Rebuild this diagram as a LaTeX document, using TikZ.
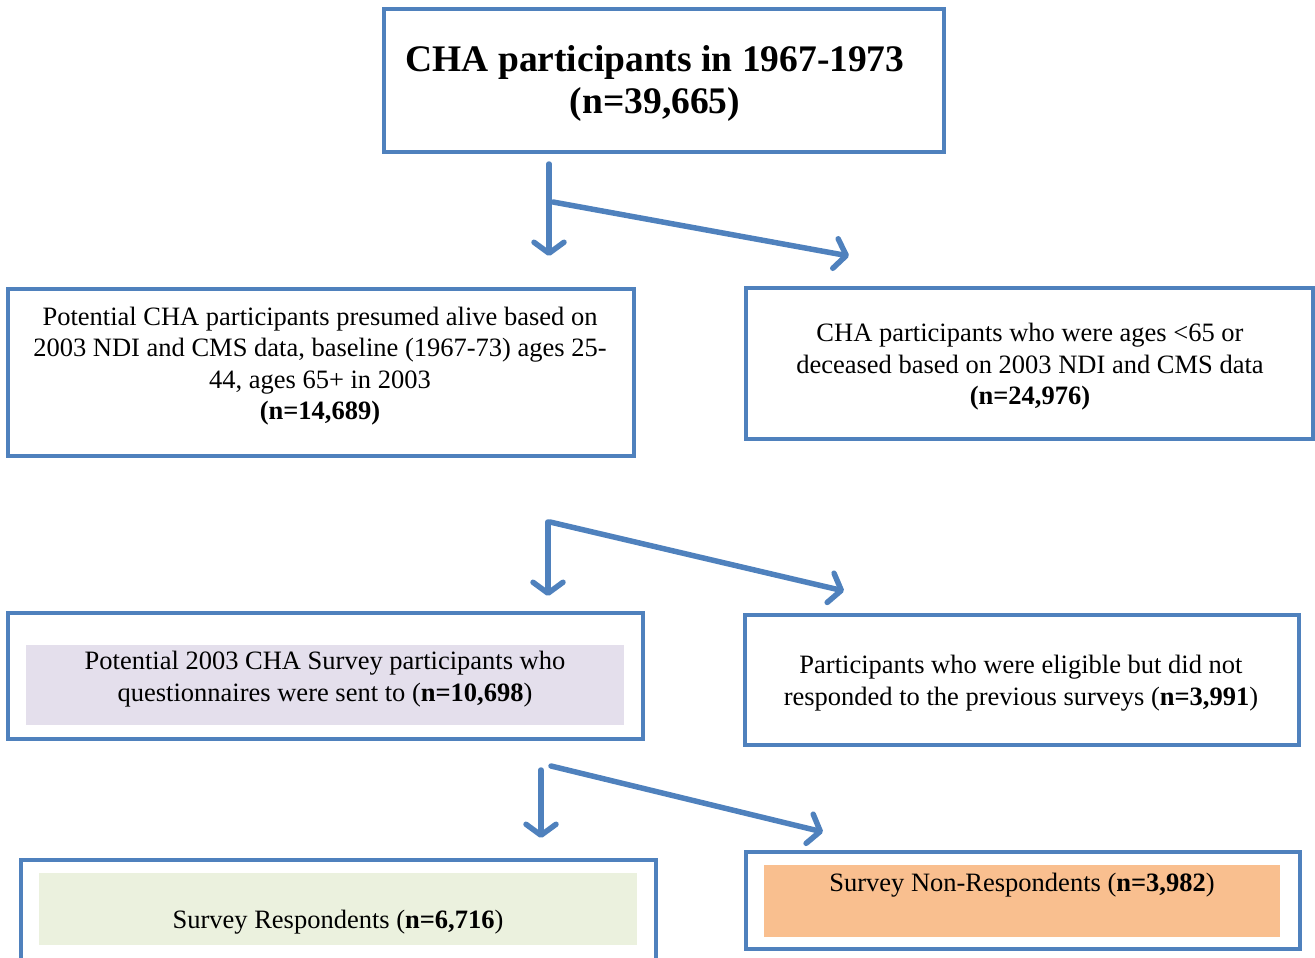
\documentclass[tikz,border=0pt]{standalone}
\usepackage{fontspec}
\setmainfont{Liberation Serif}
\usetikzlibrary{arrows.meta,calc}
\definecolor{boxblue}{HTML}{4F81BD}
\definecolor{lav}{HTML}{E4DFEC}
\definecolor{pale}{HTML}{EBF1DE}
\definecolor{peach}{HTML}{F9BF8F}
\tikzset{
  box/.style={draw=boxblue, line width=4pt, fill=white, inner sep=0pt},
  bodytxt/.style={align=center, font=\fontsize{26.5}{31.5}\selectfont, inner sep=0pt},
  flow/.style={draw=boxblue, line width=5.5pt, line cap=round,
    -{Straight Barb[length=11pt,width=30pt,round]}},
}
\begin{document}
\begin{tikzpicture}[x=1pt,y=-1pt]
\useasboundingbox (0,0) rectangle (1315,958);
% boxes
\node[box, minimum width=560pt, minimum height=143pt] (b1) at (664,80.5) {};
\node[align=center, font=\bfseries\fontsize{37.5}{42}\selectfont, inner sep=0pt] (t1) at (655,83)
  {CHA participants in 1967-1973\\(n=39,665)};

\node[box, minimum width=626pt, minimum height=167pt] (b2l) at (321,372.5) {};
\node[bodytxt] (t2l) at (320,366)
  {Potential CHA participants presumed alive based on\\2003 NDI and CMS data, baseline (1967-73) ages 25-\\44, ages 65+ in 2003\\\textbf{(n=14,689)}};

\node[box, minimum width=567pt, minimum height=151pt] (b2r) at (1029.5,363.5) {};
\node[bodytxt] (t2r) at (1030,367)
  {CHA participants who were ages {<}65 or\\deceased based on 2003 NDI and CMS data\\\textbf{(n=24,976)}};

\node[box, minimum width=635pt, minimum height=126pt] (b3l) at (325.5,676) {};
\node[fill=lav, minimum width=598pt, minimum height=80pt, inner sep=0pt] (f3l) at (325,685) {};
\node[bodytxt] (t3l) at (325,679)
  {Potential 2003 CHA Survey participants who\\questionnaires were sent to (\textbf{n=10,698})};

\node[box, minimum width=554pt, minimum height=130pt] (b3r) at (1022,680) {};
\node[bodytxt] (t3r) at (1021,683)
  {Participants who were eligible but did not\\responded to the previous surveys (\textbf{n=3,991})};

\node[box, minimum width=635pt, minimum height=104pt] (b4l) at (338.5,912) {};
\node[fill=pale, minimum width=598pt, minimum height=72pt, inner sep=0pt] (f4l) at (338,909) {};
\node[bodytxt] (t4l) at (338,922) {Survey Respondents (\textbf{n=6,716})};

\node[box, minimum width=554pt, minimum height=97pt] (b4r) at (1023,900.5) {};
\node[fill=peach, minimum width=516pt, minimum height=72pt, inner sep=0pt] (f4r) at (1022,901) {};
\node[bodytxt] (t4r) at (1022,885) {Survey Non-Respondents (\textbf{n=3,982})};

% connectors
\coordinate (s1) at ($(b1.south)+(-115,10)$);
\coordinate (e1) at ($(b2l.north)+(228,-31)$);
\coordinate (k1) at ($(b1.south)+(-111,48)$);
\coordinate (d1) at ($(b2r.north)+(-180.5,-30)$);
\draw[flow] (s1) -- (e1);
\draw[flow] (k1) -- (d1);

\coordinate (s2) at ($(b2l.south)+(227,64)$);
\coordinate (e2) at ($(b3l.north)+(222.5,-15)$);
\coordinate (k2) at ($(b2l.south)+(229,64)$);
\coordinate (d2) at ($(b3r.north)+(-178,-22)$);
\draw[flow] (s2) -- (e2);
\draw[flow] (k2) -- (d2);

\coordinate (s3) at ($(b3l.south)+(215.5,29)$);
\coordinate (e3) at ($(b4l.north)+(202.5,-20)$);
\coordinate (k3) at ($(b3l.south)+(225.5,25)$);
\coordinate (d3) at ($(b4r.north)+(-200,-18)$);
\draw[flow] (s3) -- (e3);
\draw[flow] (k3) -- (d3);
\end{tikzpicture}
\end{document}
